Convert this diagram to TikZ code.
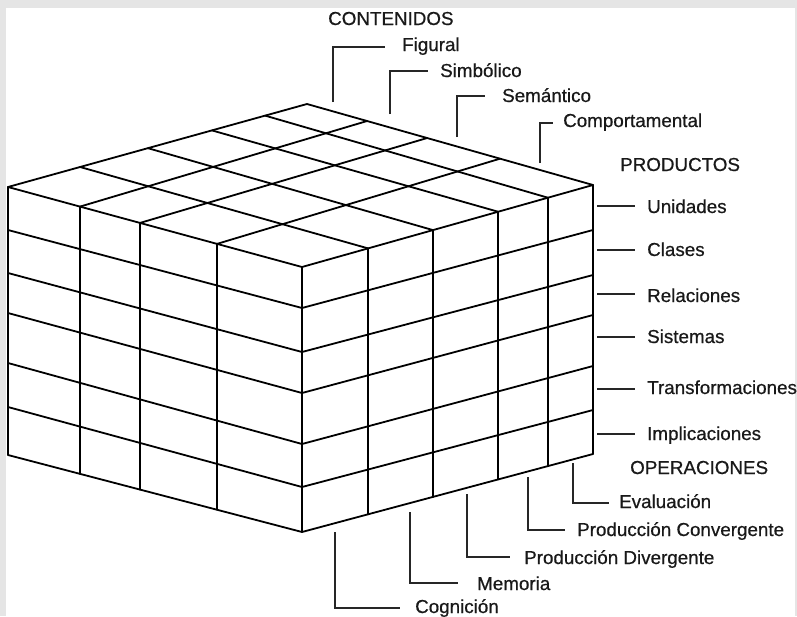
\documentclass[tikz,border=0pt]{standalone}
\usepackage{fontspec}
\setmainfont{Liberation Sans}
\newfontfamily\lblfont[FakeBold=0.6]{Liberation Sans}
\usetikzlibrary{calc}
\begin{document}
\begin{tikzpicture}[x=1pt,y=-1pt,
  cubeline/.style={line width=1.8pt,line join=round,line cap=round,black},
  leader/.style={line width=1.5pt,black!85},
  lbl/.style={anchor=base west,inner sep=0pt,text=black!90,font=\lblfont\fontsize{18.8}{20}\selectfont}]
\useasboundingbox (0,0) rectangle (797,616);
\fill[gray!20] (0,0) rectangle (797,616);
\fill[white] (6,8) rectangle (795,616);
% corners
\coordinate (B) at (307,104);
% row points on the three vertical edges
\foreach \i/\yl/\yf/\yr in {0/187/267/185,1/230/308/230,2/273/352/275,3/313/393/315,4/363/444/366,5/407/487/410,6/455/532/454}{
  \coordinate (l\i) at (8,\yl);
  \coordinate (f\i) at (302,\yf);
  \coordinate (r\i) at (593,\yr);
}
% rows on left and right faces
\foreach \i in {0,...,6}{
  \draw[cubeline] (l\i) -- (f\i) -- (r\i);
}
% outline verticals and top back edges
\draw[cubeline] (l0) -- (l6);
\draw[cubeline] (f0) -- (f6);
\draw[cubeline] (r0) -- (r6);
\draw[cubeline] (l0) -- (B) -- (r0);
% left face verticals
\foreach \s in {0.245,0.449,0.711}{
  \draw[cubeline] ($(l0)!\s!(f0)$) -- ($(l6)!\s!(f6)$);
}
% right face verticals
\foreach \t in {0.227,0.450,0.674,0.845}{
  \draw[cubeline] ($(f0)!\t!(r0)$) -- ($(f6)!\t!(r6)$);
}
% top face grid
\foreach \t/\tb in {0.227/0.241,0.450/0.468,0.674/0.682,0.845/0.86}{
  \draw[cubeline] ($(f0)!\t!(r0)$) -- ($(l0)!\tb!(B)$);
}
\foreach \s/\sb in {0.289/0.325,0.551/0.58,0.755/0.79}{
  \draw[cubeline] ($(f0)!\s!(l0)$) -- ($(r0)!\sb!(B)$);
}
% labels
\node[lbl] (contenidos) at (328,25) {CONTENIDOS};
\node[lbl] (figural) at (402,51) {Figural};
\node[lbl] (simbolico) at (440,77) {Simbólico};
\node[lbl] (semantico) at (502,102) {Semántico};
\node[lbl] (comport) at (563,127) {Comportamental};
\node[lbl] (productos) at (620,171) {PRODUCTOS};
\node[lbl] (unidades) at (647,213) {Unidades};
\node[lbl] (clases) at (647,256) {Clases};
\node[lbl] (relaciones) at (647,302) {Relaciones};
\node[lbl] (sistemas) at (647,343) {Sistemas};
\node[lbl] (transf) at (647,394) {Transformaciones};
\node[lbl] (implic) at (647,440) {Implicaciones};
\node[lbl] (operaciones) at (630,474) {OPERACIONES};
\node[lbl] (evaluacion) at (619,508) {Evaluación};
\node[lbl] (convergente) at (577,536) {Producción Convergente};
\node[lbl] (divergente) at (524,564) {Producción Divergente};
\node[lbl] (memoria) at (477,590) {Memoria};
\node[lbl] (cognicion) at (415,613) {Cognición};
% leader end points
\coordinate (cf1) at (333,102); \coordinate (cf2) at (385,47);
\coordinate (cs1) at (390,114); \coordinate (cs2) at (428,71);
\coordinate (cm1) at (457,137); \coordinate (cm2) at (485,96);
\coordinate (cc1) at (540,163); \coordinate (cc2) at (553,123);
\draw[leader] (cf1) |- (cf2);
\draw[leader] (cs1) |- (cs2);
\draw[leader] (cm1) |- (cm2);
\draw[leader] (cc1) |- (cc2);
\foreach \n/\y in {u/206,c/250,r/294,s/337,t/389,i/434}{
  \coordinate (p\n1) at (597,\y);
  \coordinate (p\n2) at (635,\y);
  \draw[leader] (p\n1) -- (p\n2);
}
\coordinate (oe1) at (573,463); \coordinate (oe2) at (609,503);
\coordinate (oc1) at (528,477); \coordinate (oc2) at (565,530);
\coordinate (od1) at (467,494); \coordinate (od2) at (510,557);
\coordinate (om1) at (410,512); \coordinate (om2) at (458,583);
\coordinate (og1) at (335,532); \coordinate (og2) at (400,608);
\draw[leader] (oe1) |- (oe2);
\draw[leader] (oc1) |- (oc2);
\draw[leader] (od1) |- (od2);
\draw[leader] (om1) |- (om2);
\draw[leader] (og1) |- (og2);
\end{tikzpicture}
\end{document}
